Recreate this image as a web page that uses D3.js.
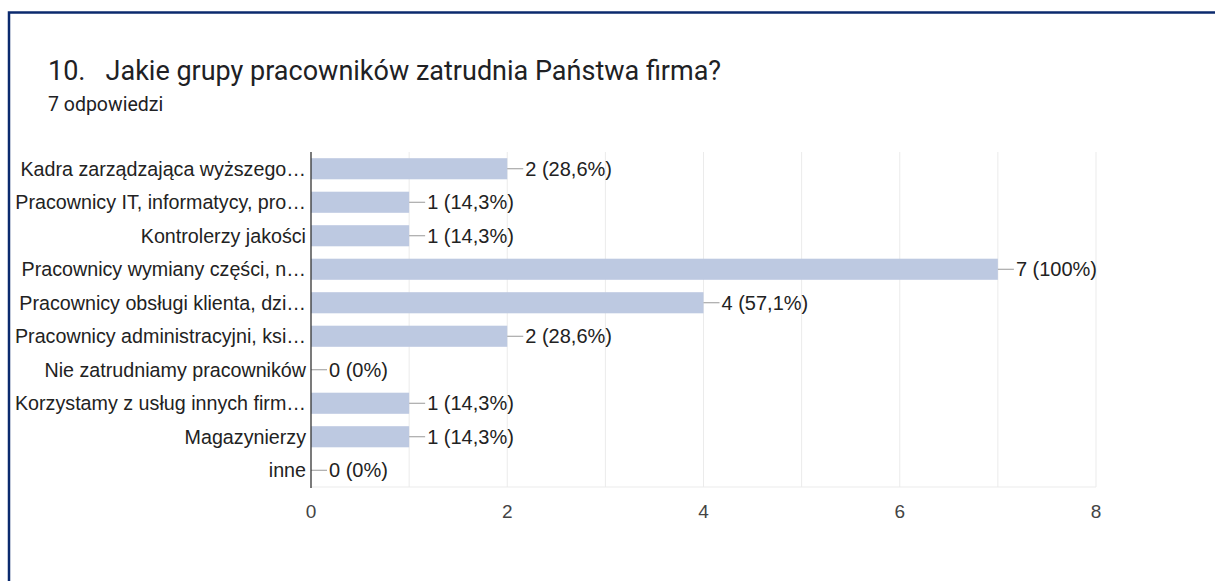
<!DOCTYPE html>
<html>
<head>
<meta charset="utf-8">
<script src="https://cdn.jsdelivr.net/npm/d3@7"></script>
<style>
body{margin:0;background:#fff;}
svg{display:block;}
</style>
</head>
<body>
<script>
var aCategories=["Kadra zarządzająca wyższego…","Pracownicy IT, informatycy, pro…","Kontrolerzy jakości","Pracownicy wymiany części, n…","Pracownicy obsługi klienta, dzi…","Pracownicy administracyjni, ksi…","Nie zatrudniamy pracowników","Korzystamy z usług innych firm…","Magazynierzy","inne"];
var aValues=[2,1,1,7,4,2,0,1,1,0];
var aPercents=["28,6%","14,3%","14,3%","100%","57,1%","28,6%","0%","14,3%","14,3%","0%"];
var aTicks=[0,2,4,6,8];
var aGrid=[1,2,3,4,5,6,7,8];

var iWidth=1215;
var iHeight=581;
var iLeft=311, iRight=1096, iTop=152, iBottom=487;

var mySvg=d3.select("body").append("svg")
	.attr("width",iWidth)
	.attr("height",iHeight);

// card border (top + left only visible)
mySvg.append("path")
	.attr("d","M9,"+iHeight+" L9,12.5 L"+iWidth+",12.5")
	.attr("fill","none")
	.attr("stroke","#0b2a6e")
	.attr("stroke-width",2.5);

mySvg.append("text")
	.attr("x",48).attr("y",80)
	.attr("font-family","Roboto")
	.attr("font-size",27)
	.attr("fill","#202124")
	.attr("xml:space","preserve")
	.text("10.   Jakie grupy pracowników zatrudnia Państwa firma?");

mySvg.append("text")
	.attr("x",48).attr("y",111)
	.attr("font-family","Roboto")
	.attr("font-size",19.5)
	.attr("fill","#202124")
	.text("7 odpowiedzi");

var xAxes=d3.scaleLinear().domain([0,8]).range([iLeft,iRight]);
var yAxes=d3.scaleBand().domain(aCategories).range([iTop,iBottom]).paddingInner(0.37).paddingOuter(0.185);

var myGraphics=mySvg.append("g");

// gridlines
myGraphics.selectAll(".grid").data(aGrid).enter().append("line")
	.attr("x1",function(d){return xAxes(d);})
	.attr("x2",function(d){return xAxes(d);})
	.attr("y1",iTop).attr("y2",iBottom)
	.attr("stroke","#ebebeb").attr("stroke-width",1);

myGraphics.append("line")
	.attr("x1",iLeft).attr("x2",iRight)
	.attr("y1",iBottom).attr("y2",iBottom)
	.attr("stroke","#ebebeb").attr("stroke-width",1);

// bars
myGraphics.selectAll(".bar").data(aValues).enter().append("rect")
	.attr("x",iLeft)
	.attr("y",function(d,i){return yAxes(aCategories[i]);})
	.attr("width",function(d){return xAxes(d)-iLeft;})
	.attr("height",yAxes.bandwidth())
	.attr("fill","#bdc9e1");

// leader lines
myGraphics.selectAll(".lead").data(aValues).enter().append("line")
	.attr("x1",function(d){return xAxes(d);})
	.attr("x2",function(d){return xAxes(d)+16;})
	.attr("y1",function(d,i){return yAxes(aCategories[i])+yAxes.bandwidth()/2;})
	.attr("y2",function(d,i){return yAxes(aCategories[i])+yAxes.bandwidth()/2;})
	.attr("stroke","#999").attr("stroke-width",1);

// value labels
myGraphics.selectAll(".val").data(aValues).enter().append("text")
	.attr("x",function(d){return xAxes(d)+18;})
	.attr("y",function(d,i){return yAxes(aCategories[i])+yAxes.bandwidth()/2;})
	.attr("dy","0.36em")
	.attr("font-family","Liberation Sans, Arial")
	.attr("font-size",20)
	.attr("fill","#222")
	.text(function(d,i){return d+" ("+aPercents[i]+")";});

// category labels
myGraphics.selectAll(".cat").data(aCategories).enter().append("text")
	.attr("x",iLeft-5)
	.attr("y",function(d){return yAxes(d)+yAxes.bandwidth()/2;})
	.attr("dy","0.36em")
	.attr("text-anchor","end")
	.attr("font-family","Liberation Sans, Arial")
	.attr("font-size",19.7)
	.attr("fill","#222")
	.text(function(d){return d;});

// zero axis
myGraphics.append("line")
	.attr("x1",iLeft).attr("x2",iLeft)
	.attr("y1",iTop).attr("y2",iBottom+1)
	.attr("stroke","#333").attr("stroke-width",1.3);

// tick labels
myGraphics.selectAll(".tick").data(aTicks).enter().append("text")
	.attr("x",function(d){return xAxes(d);})
	.attr("y",518)
	.attr("text-anchor","middle")
	.attr("font-family","Liberation Sans, Arial")
	.attr("font-size",19)
	.attr("fill","#444")
	.text(function(d){return d;});
</script>
</body>
</html>
